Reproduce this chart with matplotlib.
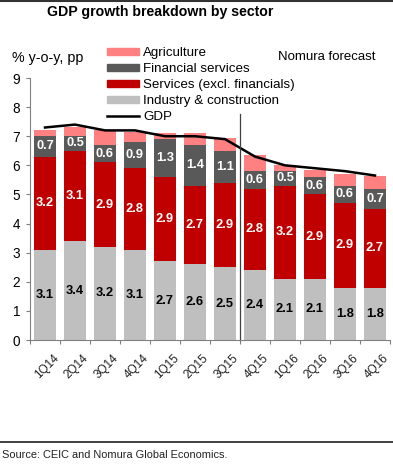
import numpy as np
import matplotlib
matplotlib.use("Agg")
import matplotlib.pyplot as plt
from matplotlib.patches import Patch
from matplotlib.lines import Line2D

plt.rcParams['font.family'] = ['Liberation Sans', 'DejaVu Sans']

quarters = ["1Q14", "2Q14", "3Q14", "4Q14", "1Q15", "2Q15", "3Q15",
            "4Q15", "1Q16", "2Q16", "3Q16", "4Q16"]
industry = [3.1, 3.4, 3.2, 3.1, 2.7, 2.6, 2.5, 2.4, 2.1, 2.1, 1.8, 1.8]
services = [3.2, 3.1, 2.9, 2.8, 2.9, 2.7, 2.9, 2.8, 3.2, 2.9, 2.9, 2.7]
financial = [0.7, 0.5, 0.6, 0.9, 1.3, 1.4, 1.1, 0.6, 0.5, 0.6, 0.6, 0.7]
agriculture = [0.2, 0.3, 0.5, 0.35, 0.2, 0.4, 0.45, 0.55, 0.2, 0.25, 0.4, 0.45]
gdp = [7.3, 7.4, 7.2, 7.2, 7.0, 7.0, 6.9, 6.3, 6.0, 5.9, 5.8, 5.65]

c_agri = "#FF8080"
c_fin = "#595959"
c_serv = "#C00000"
c_ind = "#BFBFBF"

fig = plt.figure(figsize=(3.93, 4.66), dpi=100)
ax = fig.add_axes([30 / 393, 1 - 340 / 466, 360 / 393, 262 / 466])

x = np.arange(len(quarters))
w = 0.75
ind = np.array(industry)
serv = np.array(services)
fin = np.array(financial)
agri = np.array(agriculture)

ax.bar(x, ind, w, color=c_ind)
ax.bar(x, serv, w, bottom=ind, color=c_serv)
ax.bar(x, fin, w, bottom=ind + serv, color=c_fin)
ax.bar(x, agri, w, bottom=ind + serv + fin, color=c_agri)
ax.plot(x, gdp, color="black", lw=1.8)

# value labels
for i in range(len(x)):
    ax.text(x[i], ind[i] / 2, f"{industry[i]:.1f}", ha="center", va="center",
            fontsize=9.3, fontweight="bold", color="black")
    ax.text(x[i], ind[i] + serv[i] / 2, f"{services[i]:.1f}", ha="center", va="center",
            fontsize=9.3, fontweight="bold", color="white")
    ax.text(x[i], ind[i] + serv[i] + fin[i] / 2, f"{financial[i]:.1f}", ha="center",
            va="center", fontsize=9.3, fontweight="bold", color="white")

# forecast divider
ax.plot([6.5, 6.5], [0, 7.75], color="#404040", lw=0.9, clip_on=False)

ax.set_xlim(-0.5, len(x) - 0.5)
ax.set_ylim(0, 9)
ax.set_yticks(range(10))
ax.tick_params(axis="y", labelsize=9.8, length=3, color="#808080", pad=4)
ax.set_xticks(np.arange(-0.5, len(x), 1.0))
ax.set_xticklabels([])
ax.tick_params(axis="x", length=3, color="#808080", direction="out")
for i, q in enumerate(quarters):
    ax.text(x[i] + 0.25, -0.42, q, rotation=45, ha="right", va="top",
            rotation_mode="anchor", fontsize=8.5, color="#222222")

for s in ["top", "right"]:
    ax.spines[s].set_visible(False)
for s in ["left", "bottom"]:
    ax.spines[s].set_color("#808080")
    ax.spines[s].set_linewidth(0.8)

handles = [Patch(color=c_agri), Patch(color=c_fin), Patch(color=c_serv),
           Patch(color=c_ind), Line2D([], [], color="black", lw=1.8)]
labels = ["Agriculture", "Financial services", "Services (excl. financials)",
          "Industry & construction", "GDP"]
fig.legend(handles, labels, loc="upper left", bbox_to_anchor=(107 / 393, 1 - 47 / 466),
           frameon=False, fontsize=9.6, handlelength=2.4, handleheight=0.38,
           handletextpad=0.3, labelspacing=0.3, borderpad=0, borderaxespad=0)

fig.text(47 / 393, 1 - 12 / 466, "GDP growth breakdown by sector", fontsize=10.2,
         fontweight="bold", va="center", ha="left")
fig.text(12 / 393, 1 - 58 / 466, "% y-o-y, pp", fontsize=10.3, va="center", ha="left")
fig.text(278 / 393, 1 - 57 / 466, "Nomura forecast", fontsize=9.5, va="center", ha="left")
fig.text(2 / 393, 1 - 455 / 466, "Source: CEIC and Nomura Global Economics.",
         fontsize=7.9, va="center", ha="left", color="#222222")

fig.add_artist(Line2D([0, 1], [1 - 442 / 466, 1 - 442 / 466], color="#333333", lw=1.3))
fig.add_artist(Line2D([0, 1], [1 - 0.7 / 466, 1 - 0.7 / 466], color="#333333", lw=1.5))

fig.savefig("out.png", dpi=100)
